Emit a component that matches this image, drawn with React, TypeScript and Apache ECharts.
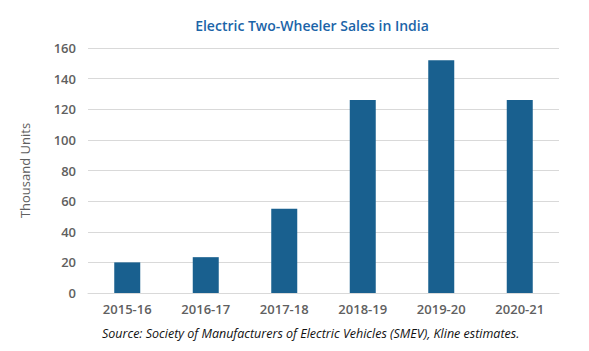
import React, { useEffect, useRef } from "react";
import * as echarts from "echarts";

const categories = ["2015-16", "2016-17", "2017-18", "2018-19", "2019-20", "2020-21"];
const sales = [20, 23.4, 55, 126, 152, 126];
const yTicks = { min: 0, max: 160, interval: 20 };

export default function App() {
  const ref = useRef<HTMLDivElement>(null);
  useEffect(() => {
    if (!ref.current) return;
    const chart = echarts.init(ref.current, null, { renderer: "svg" });
    chart.setOption({
      animation: false,
      backgroundColor: "#ffffff",
      textStyle: { fontFamily: "Open Sans" },
      title: {
        text: "Electric Two-Wheeler Sales in India",
        left: 307,
        top: 13,
        textAlign: "center",
        textStyle: { color: "#1b64a8", fontSize: 14, fontWeight: 600, fontFamily: "Open Sans" },
      },
      grid: { left: 88, right: 30, top: 48, bottom: 58 },
      xAxis: {
        type: "category",
        data: categories,
        axisLine: { show: true, lineStyle: { color: "#d9d9d9" } },
        axisTick: { show: false },
        axisLabel: { color: "#606060", fontSize: 13, fontWeight: 600, margin: 9, fontFamily: "Open Sans" },
      },
      yAxis: {
        type: "value",
        min: yTicks.min,
        max: yTicks.max,
        interval: yTicks.interval,
        name: "Thousand Units",
        nameLocation: "middle",
        nameGap: 57,
        nameTextStyle: { color: "#606060", fontSize: 13, fontWeight: 500, fontFamily: "Open Sans" },
        axisLine: { show: false },
        axisTick: { show: false },
        axisLabel: { color: "#606060", fontSize: 13, fontWeight: 600, margin: 12, fontFamily: "Open Sans" },
        splitLine: { lineStyle: { color: "#d9d9d9", width: 1 } },
      },
      series: [
        {
          type: "bar",
          data: sales,
          barWidth: 26,
          itemStyle: { color: "#19608f" },
        },
      ],
      graphic: [
        {
          type: "text",
          left: 102,
          top: 327,
          style: {
            text: "Source: Society of Manufacturers of Electric Vehicles (SMEV), Kline estimates.",
            fill: "#111111",
            fontSize: 12.5,
            fontStyle: "italic",
            fontFamily: "Open Sans",
          },
        },
      ],
    });
    return () => chart.dispose();
  }, []);
  return <div ref={ref} style={{ width: 589, height: 351, position: "absolute", left: 0, top: 0 }} />;
}
